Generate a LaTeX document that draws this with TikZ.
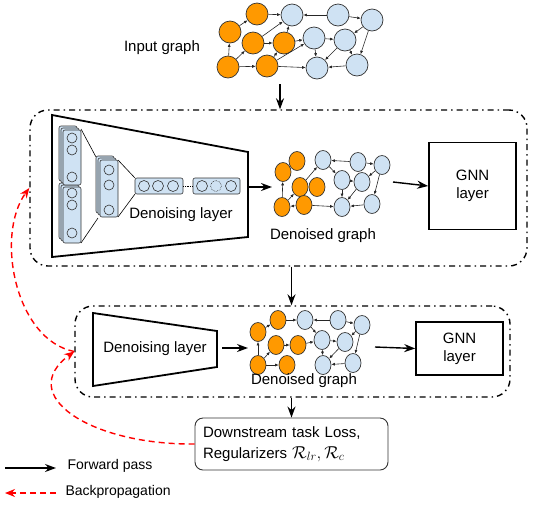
\documentclass[tikz,border=0pt]{standalone}
\usepackage{fontspec}
\setmainfont{Liberation Sans}
\usepackage{amsmath}
\usetikzlibrary{arrows.meta, positioning, shapes.geometric, calc}

\definecolor{gorange}{HTML}{FF9900}
\definecolor{gblue}{HTML}{CFE2F3}

\begin{document}
\begin{tikzpicture}[
  x=1pt, y=-1pt,
  onode/.style={ellipse, draw=black!80, fill=gorange, inner sep=0pt,
    line width=0.7pt, minimum width=22pt, minimum height=22pt},
  bnode/.style={onode, fill=gblue},
  osmall/.style={onode, minimum width=16pt, minimum height=19pt},
  bsmall/.style={osmall, fill=gblue},
  gedge/.style={-{Latex[length=3.5pt, width=3pt]}, line width=0.6pt, black!85},
  stage/.style={draw, line width=1.4pt, rounded corners=18pt,
    dash pattern=on 6pt off 4pt on 1.5pt off 4pt},
  gnn/.style={draw, line width=1.5pt, align=center,
    font=\fontsize{15}{18}\selectfont},
  label/.style={font=\fontsize{15}{17}\selectfont},
  legend/.style={font=\fontsize{14}{16}\selectfont, anchor=west},
  layer/.style={draw=black!80, fill=gblue, rounded corners=2pt, line width=0.6pt},
  unit/.style={draw=black!80, fill=gblue, line width=0.6pt},
  fwd/.style={-{Stealth[length=11pt, width=8pt]}, line width=1.4pt},
  back/.style={-{Stealth[length=10pt, width=8pt]}, red, line width=1.4pt,
    dash pattern=on 6pt off 4pt}
]
  \useasboundingbox (0,0) rectangle (559,512);

  % Input graph
  \foreach \n/\x/\y in {io1/230/32, io2/257/14, io3/253/43, io4/284/43, io5/228/67, io6/267/66}
    \node[onode] (\n) at (\x,\y) {};
  \foreach \n/\x/\y in {ib1/292/15, ib2/338/15, ib3/372/20, ib4/314/38, ib5/345/40, ib6/317/68, ib7/357/65}
    \node[bnode] (\n) at (\x,\y) {};
  \foreach \a/\b in {io5/io1, io1/io2, io2/ib1, io3/ib1, io3/io4, io5/io3, io5/io6, io6/io4,
                     io4/ib1, io4/ib4, io6/ib4, io6/ib6, ib2/ib1, ib2/ib3, ib4/ib6, ib4/ib5,
                     ib3/ib5, ib3/ib7, ib5/ib6, ib7/ib6, ib5/ib7}
    \draw[gedge] (\a) -- (\b);
  \node[label] (inlabel) at (162,48) {Input graph};
  \coordinate (inout) at (280,84);

  % First stage
  \node[stage, minimum width=497pt, minimum height=156pt] (stage1) at (278.5,188) {};
  \draw[line width=1.8pt] (52,115) -- (248,152) -- (248,237) -- (52,257) -- cycle;
  \foreach \d in {4,2,0} {
    \draw[layer] ({63-\d},{130-\d}) rectangle ({81-\d},{185-\d});
    \draw[layer] ({63-\d},{187-\d}) rectangle ({81-\d},{243-\d});
    \draw[layer] ({100-\d},{160-\d}) rectangle ({118-\d},{217-\d});
  }
  \foreach \y in {138,150,177,193,205,233}
    \draw[unit] (72,\y) circle[radius=5];
  \foreach \y in {170,185,210}
    \draw[unit] (109,\y) circle[radius=5];
  \draw[line width=0.6pt] (81,129) -- (96,157) (81,243) -- (98,218);
  \draw[line width=0.6pt] (118,160) -- (135,178) (118,217) -- (135,194);
  \draw[layer] (135,178) rectangle (183,194);
  \draw[layer] (193,178) rectangle (240,194);
  \draw[densely dotted, line width=0.8pt] (183,186) -- (193,186);
  \foreach \x in {144,158,173,202,231}
    \draw[unit] (\x,186) circle[radius=5.5];
  \draw[unit, densely dotted] (216,186) circle[radius=5.5];
  \node[label] (enc1label) at (181,215) {Denoising layer};
  \coordinate (enc1out) at (249,187);
  \coordinate (g1in) at (272,187);

  \foreach \n/\x/\y in {ao1/283/172, ao2/297/161, ao3/300/187, ao4/317/187, ao5/282/207, ao6/304/205}
    \node[osmall] (\n) at (\x,\y) {};
  \foreach \n/\x/\y in {ab1/323/160, ab2/358/162, ab3/382/165, ab4/342/180, ab5/362/182, ab6/342/207, ab7/372/204}
    \node[bsmall] (\n) at (\x,\y) {};
  \foreach \a/\b in {ao5/ao1, ao5/ao3, ao6/ao5, ao3/ab1, ao6/ab6, ab2/ab1, ab2/ab3, ab1/ab4,
                     ab4/ab6, ab4/ab5, ab3/ab5, ab3/ab7, ab5/ab6, ab7/ab6}
    \draw[gedge] (\a) -- (\b);
  \node[label] (g1label) at (323,236) {Denoised graph};
  \coordinate (g1out) at (393,182);
  \node[gnn, minimum width=87pt, minimum height=87pt] (gnn1) at (472.5,186) {GNN\\layer};

  % Second stage
  \node[stage, minimum width=435pt, minimum height=91pt] (stage2) at (292.5,351.5) {};
  \draw[line width=1.8pt] (93,313) -- (217,331) -- (217,367) -- (93,386) -- cycle;
  \node[label] (enc2label) at (155,349) {Denoising layer};
  \coordinate (enc2out) at (222,348);
  \coordinate (g2in) at (248,348);

  \foreach \n/\x/\y in {bo1/258/332, bo2/278/320, bo3/276/345, bo4/298/345, bo5/258/365, bo6/287/365}
    \node[osmall] (\n) at (\x,\y) {};
  \foreach \n/\x/\y in {bb1/305/320, bb2/338/320, bb3/362/325, bb4/322/340, bb5/345/342, bb6/323/365, bb7/353/363}
    \node[bsmall] (\n) at (\x,\y) {};
  \foreach \a/\b in {bo5/bo1, bo1/bo2, bo2/bb1, bo3/bo4, bo5/bo3, bo5/bo6, bo4/bb4, bb2/bb1,
                     bb1/bb4, bb2/bb3, bb4/bb6, bb4/bb5, bb3/bb5, bb3/bb7, bb5/bb6, bb7/bb6}
    \draw[gedge] (\a) -- (\b);
  \node[label] (g2label) at (304,381) {Denoised graph};
  \coordinate (g2out) at (375,347);
  \node[gnn, minimum width=87pt, minimum height=53pt] (gnn2) at (459.5,348.5) {GNN\\layer};

  % Loss
  \node[draw=black!80, line width=0.9pt, rounded corners=8pt, align=left,
        minimum width=193pt, minimum height=52pt, text width=177pt,
        font=\fontsize{15}{21}\selectfont] (loss) at (291.5,444)
    {Downstream task Loss,\\Regularizers {\fontsize{18}{21}\selectfont$\mathcal{R}_{lr}, \mathcal{R}_c$}};

  % Legend
  \coordinate (lf1) at (5,468);
  \coordinate (lf2) at (56,468);
  \coordinate (lb1) at (5,493);
  \coordinate (lb2) at (56,493);
  \node[legend] (lfwd) at (64,466) {Forward pass};
  \node[legend] (lback) at (62,492) {Backpropagation};

  % Arrows
  \draw[fwd] (inout) -- (inout |- stage1.north);
  \draw[fwd] (enc1out) -- (g1in);
  \draw[fwd] (g1out) -- (gnn1.west);
  \draw[fwd] (stage1.south -| loss.north) -- (stage2.north -| loss.north);
  \draw[fwd] (enc2out) -- (g2in);
  \draw[fwd] (g2out) -- (gnn2.west);
  \draw[fwd] (stage2.south -| loss.north) -- (loss.north);
  \draw[fwd] (lf1) -- (lf2);
  \draw[back] (lb2) -- (lb1);
  \draw[back] (loss.west) .. controls (90,445) and (15,395) .. (stage2.west);
  \draw[back] (stage2.west) .. controls (15,340) and (-5,235) .. (stage1.west);

\end{tikzpicture}
\end{document}
